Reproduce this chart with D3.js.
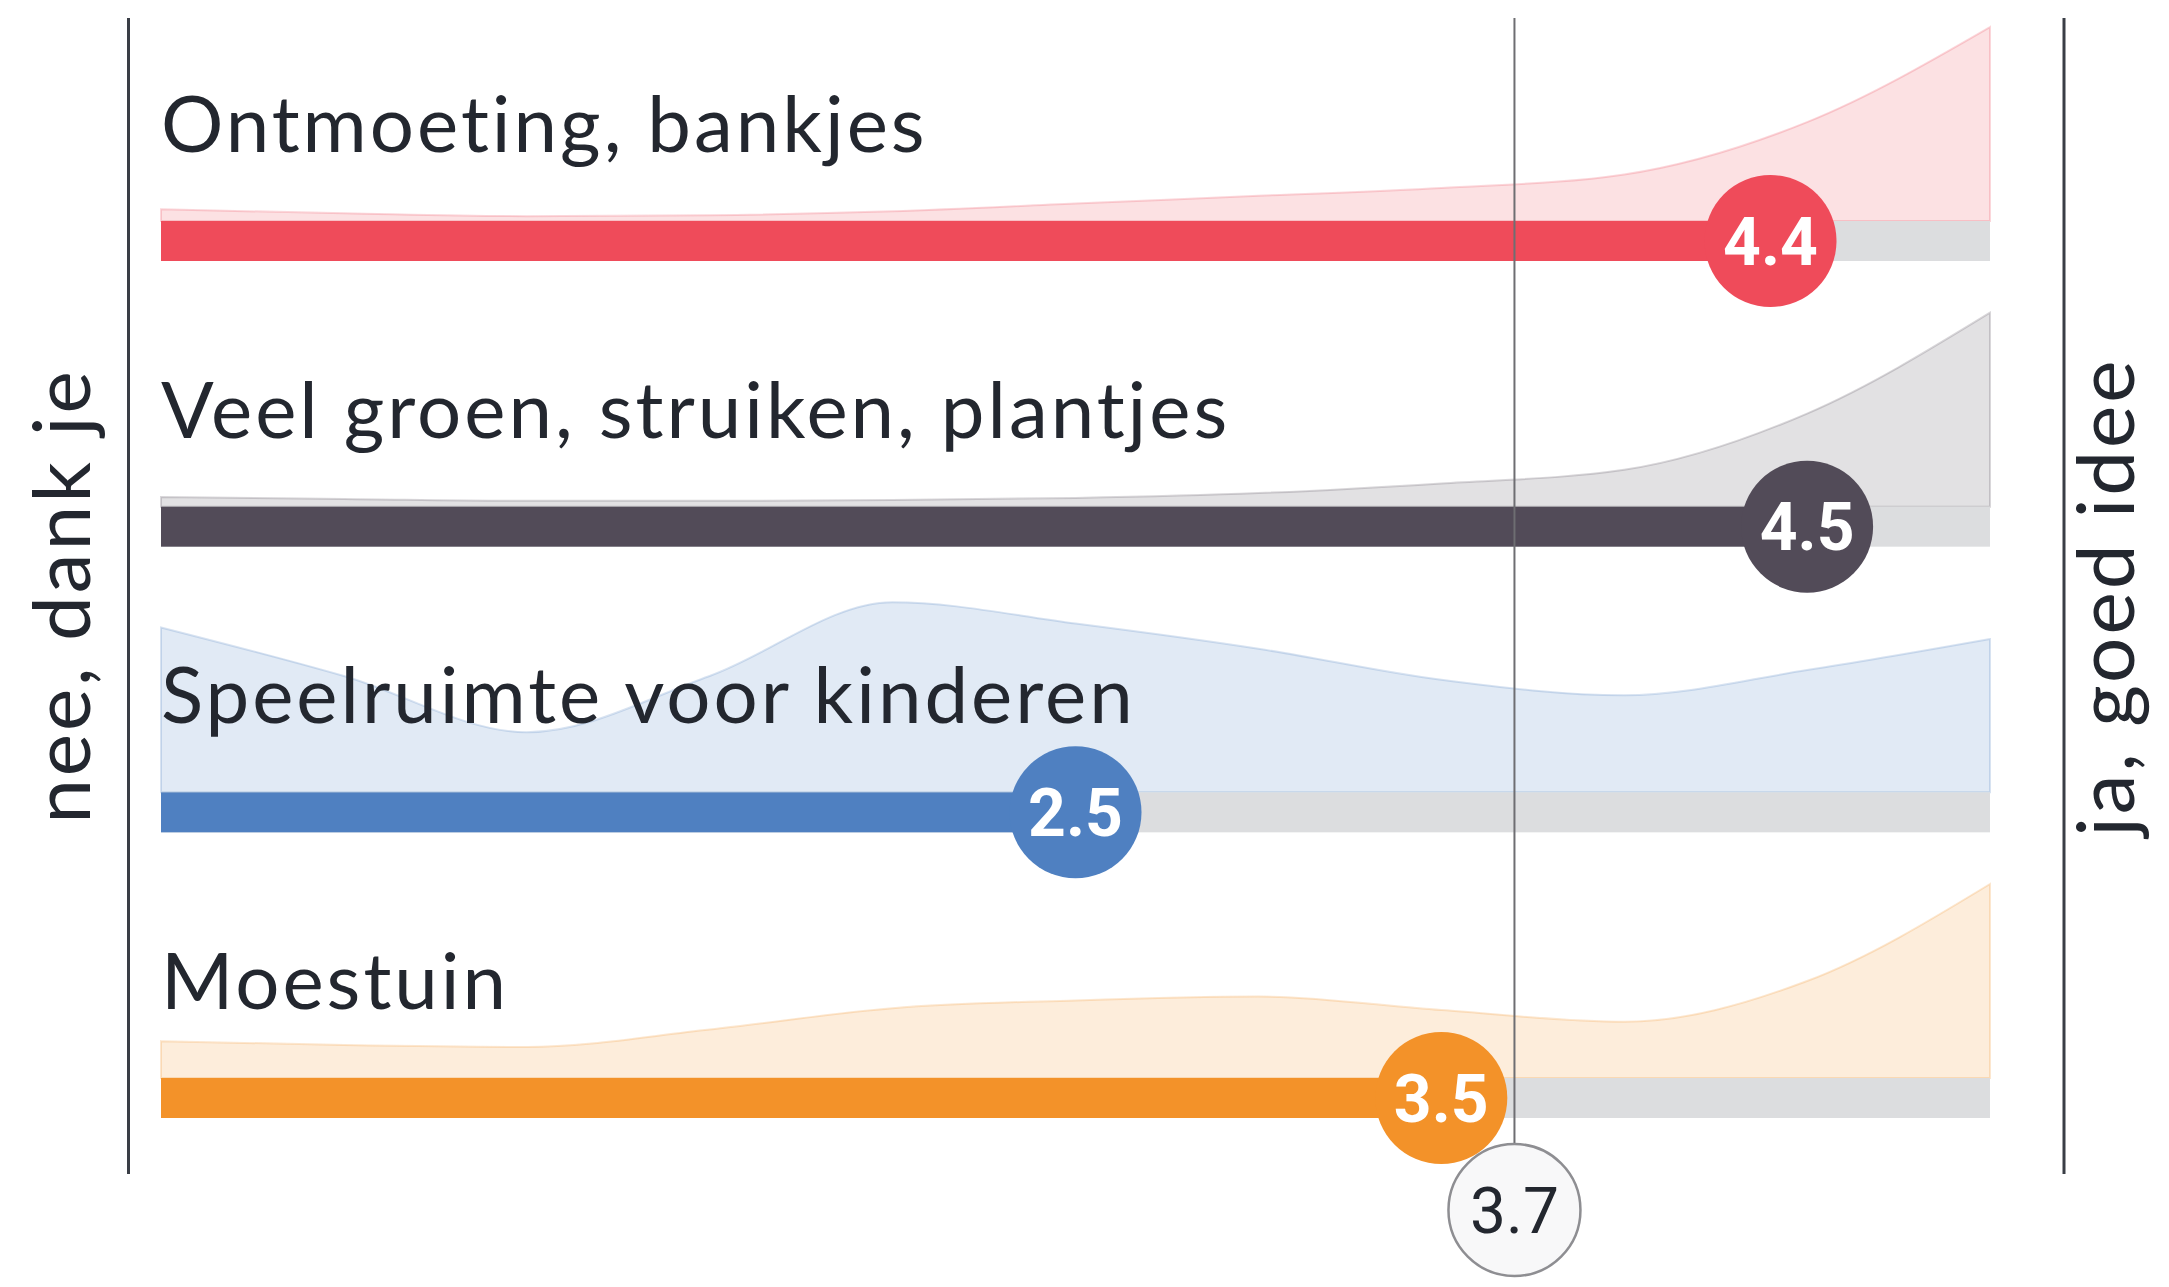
<!DOCTYPE html>
<html>
<head>
<meta charset="utf-8">
<script src="https://cdn.jsdelivr.net/npm/d3@7"></script>
<style>
  html, body { margin: 0; padding: 0; background: #fff; }
  svg { display: block; }
</style>
</head>
<body>
<svg id="chart"></svg>
<script>
// data
var categories = ['Ontmoeting, bankjes', 'Veel groen, struiken, plantjes', 'Speelruimte voor kinderen', 'Moestuin'];
var scores = [4.4, 4.5, 2.5, 3.5];
var average = 3.7;
var axisLabels = ['nee, dank je', 'ja, goed idee'];
// answer distribution (relative height), sampled along the 0..5 scale
var steps = [0, 0.5, 1, 1.5, 2, 2.5, 3, 3.5, 4, 4.5, 5];
var distOntmoeting = [0.06, 0.04, 0.025, 0.03, 0.05, 0.09, 0.13, 0.17, 0.24, 0.51, 1.0];
var distGroen      = [0.05, 0.04, 0.03, 0.03, 0.035, 0.045, 0.07, 0.12, 0.19, 0.48, 1.0];
var distSpeel      = [0.85, 0.60, 0.31, 0.60, 0.98, 0.87, 0.74, 0.58, 0.50, 0.63, 0.79];
var distMoestuin   = [0.19, 0.17, 0.16, 0.25, 0.36, 0.40, 0.42, 0.35, 0.29, 0.50, 1.0];
var dists = [distOntmoeting, distGroen, distSpeel, distMoestuin];

var colors = ['#ef4b5a', '#524b58', '#4f80c1', '#f39229'];

var W = 2169, H = 1287;
var barH = 40, R = 66;

var svg = d3.select('#chart').attr('width', W).attr('height', H);

var x = d3.scaleLinear().domain([0, 5]).range([161, 1990]);
var y = d3.scalePoint().domain(categories).range([241, 1098]);
var h = d3.scaleLinear().domain([0, 1]).range([0, 194]);

var rows = categories.map(function(c, i) {
  return {name: c, score: scores[i], color: colors[i],
          dist: steps.map(function(s, j) { return {v: s, d: dists[i][j]}; })};
});

var area = d3.area()
  .curve(d3.curveMonotoneX)
  .x(function(d) { return x(d.v); });

var rowSel = svg.append('g').attr('class', 'rows')
  .selectAll('g')
  .data(rows)
  .enter()
  .append('g')
  .attr('transform', function(d) { return 'translate(0,' + y(d.name) + ')'; });

// distribution
rowSel.append('path')
  .attr('d', function(d) {
    return area.y0(-barH / 2).y1(function(p) { return -barH / 2 - h(p.d); })(d.dist);
  })
  .attr('fill', function(d) { return d.color; })
  .attr('fill-opacity', 0.17)
  .attr('stroke', function(d) { return d.color; })
  .attr('stroke-opacity', 0.22)
  .attr('stroke-width', 2);

// track + bar
rowSel.append('rect')
  .attr('x', x(0))
  .attr('y', -barH / 2)
  .attr('width', x(5) - x(0))
  .attr('height', barH)
  .attr('fill', '#dcdddf');

rowSel.append('rect')
  .attr('x', x(0))
  .attr('y', -barH / 2)
  .attr('width', function(d) { return x(d.score) - x(0); })
  .attr('height', barH)
  .attr('fill', function(d) { return d.color; });

rowSel.append('text')
  .attr('x', x(0))
  .attr('y', -89)
  .style('font-family', 'Lato, "Open Sans", sans-serif')
  .style('font-size', '78px')
  .style('letter-spacing', '3px')
  .style('fill', '#23272f')
  .text(function(d) { return d.name; });

// side axes
svg.selectAll('line.side')
  .data([128.5, 2064])
  .enter()
  .append('line')
  .attr('class', 'side')
  .attr('x1', function(d) { return d; })
  .attr('x2', function(d) { return d; })
  .attr('y1', 18)
  .attr('y2', 1174)
  .attr('stroke', '#3a3e46')
  .attr('stroke-width', 3);

svg.selectAll('text.side')
  .data(axisLabels)
  .enter()
  .append('text')
  .attr('class', 'side')
  .attr('text-anchor', 'middle')
  .attr('transform', function(d, i) {
    return i === 0 ? 'translate(90,596) rotate(-90)' : 'translate(2134,597) rotate(-90)';
  })
  .style('font-family', 'Lato, "Open Sans", sans-serif')
  .style('font-size', '80px')
  .style('letter-spacing', '3px')
  .style('fill', '#23272f')
  .text(function(d) { return d; });

// average line
var avgY = 1210;
svg.append('line')
  .attr('x1', x(average))
  .attr('x2', x(average))
  .attr('y1', 18)
  .attr('y2', avgY - R)
  .attr('stroke', '#6e6e72')
  .attr('stroke-width', 2);

// score circles
var dots = svg.append('g').attr('class', 'dots')
  .selectAll('g')
  .data(rows)
  .enter()
  .append('g')
  .attr('transform', function(d) { return 'translate(' + x(d.score) + ',' + y(d.name) + ')'; });

dots.append('circle')
  .attr('r', R)
  .attr('fill', function(d) { return d.color; });

dots.append('text')
  .attr('text-anchor', 'middle')
  .attr('dy', '0.36em')
  .style('font-family', 'Roboto, sans-serif')
  .style('font-weight', 700)
  .style('font-size', '66px')
  .style('fill', '#fff')
  .text(function(d) { return d3.format('.1f')(d.score); });

var avg = svg.append('g')
  .attr('transform', 'translate(' + x(average) + ',' + avgY + ')');
avg.append('circle')
  .attr('r', R)
  .attr('fill', '#f8f8f9')
  .attr('stroke', '#8e8e92')
  .attr('stroke-width', 2.5);
avg.append('text')
  .attr('text-anchor', 'middle')
  .attr('dy', '0.36em')
  .style('font-family', 'Roboto, sans-serif')
  .style('font-size', '64px')
  .style('fill', '#23272f')
  .text(d3.format('.1f')(average));
</script>
</body>
</html>
